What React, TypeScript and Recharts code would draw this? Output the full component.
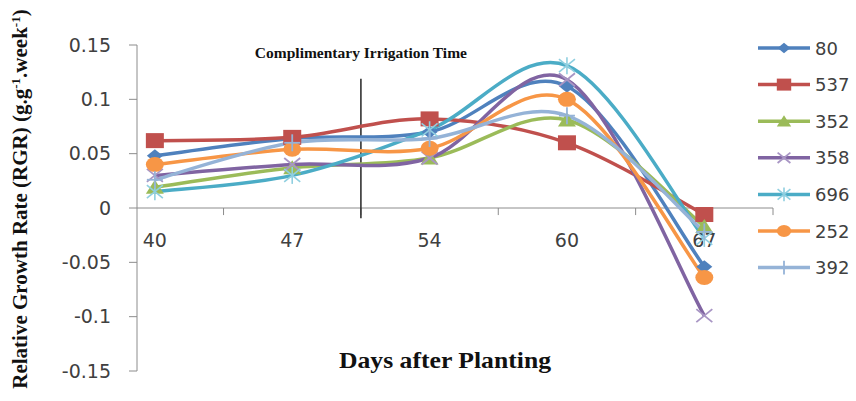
import React from 'react';
import { LineChart, Line, XAxis, YAxis, ReferenceLine, ReferenceDot, Legend } from 'recharts';

const days = ['40', '47', '54', '60', '67'];
const s80 = [0.048, 0.064, 0.07, 0.112, -0.054];
const s537 = [0.062, 0.065, 0.082, 0.06, -0.006];
const s352 = [0.019, 0.037, 0.046, 0.081, -0.017];
const s358 = [0.03, 0.04, 0.046, 0.118, -0.099];
const s696 = [0.015, 0.03, 0.072, 0.131, -0.028];
const s252 = [0.04, 0.054, 0.055, 0.1, -0.064];
const s392 = [0.026, 0.06, 0.064, 0.085, -0.022];
const yTicks = [-0.15, -0.1, -0.05, 0, 0.05, 0.1, 0.15];
const boundaries = [0.5, 1.5, 2.5, 3.5, 4.5];

const series = [
  { key: 's80', name: '80', values: s80, color: '#4F81BD', mark: 'diamond', markColor: '#4F81BD' },
  { key: 's537', name: '537', values: s537, color: '#C0504D', mark: 'square', markColor: '#C0504D' },
  { key: 's352', name: '352', values: s352, color: '#9BBB59', mark: 'triangle', markColor: '#9BBB59' },
  { key: 's358', name: '358', values: s358, color: '#8064A2', mark: 'x', markColor: '#A895C4' },
  { key: 's696', name: '696', values: s696, color: '#4BACC6', mark: 'star', markColor: '#8FCFE0' },
  { key: 's252', name: '252', values: s252, color: '#F79646', mark: 'circle', markColor: '#F79646' },
  { key: 's392', name: '392', values: s392, color: '#95B3D7', mark: 'plus', markColor: '#95B3D7' },
];

const data = days.map((d, i) => {
  const row: any = { idx: i, day: d };
  series.forEach((s) => { row[s.key] = s.values[i]; });
  return row;
});

const excelCurve: any = (context: any) => {
  let pts: number[][] = [];
  return {
    areaStart() {},
    areaEnd() {},
    lineStart() { pts = []; },
    point(x: number, y: number) { pts.push([+x, +y]); },
    lineEnd() {
      const n = pts.length;
      if (!n) return;
      context.moveTo(pts[0][0], pts[0][1]);
      for (let i = 0; i < n - 1; i++) {
        const p0 = pts[i - 1] || pts[i];
        const p1 = pts[i];
        const p2 = pts[i + 1];
        const p3 = pts[i + 2] || p2;
        context.bezierCurveTo(
          p1[0] + (p2[0] - p0[0]) / 6, p1[1] + (p2[1] - p0[1]) / 6,
          p2[0] - (p3[0] - p1[0]) / 6, p2[1] - (p3[1] - p1[1]) / 6,
          p2[0], p2[1]
        );
      }
    },
  };
};

function Marker({ mark, cx, cy, color, k = 1 }: any) {
  if (cx == null || cy == null) return null;
  switch (mark) {
    case 'diamond':
      return <polygon points={`${cx - 8 * k},${cy} ${cx},${cy - 6.5 * k} ${cx + 8 * k},${cy} ${cx},${cy + 6.5 * k}`} fill={color} />;
    case 'square':
      return <rect x={cx - 9 * k} y={cy - 7.5 * k} width={18 * k} height={15 * k} fill={color} />;
    case 'triangle':
      return <polygon points={`${cx},${cy - 7.5 * k} ${cx + 9 * k},${cy + 6.5 * k} ${cx - 9 * k},${cy + 6.5 * k}`} fill={color} />;
    case 'x':
      return (
        <g stroke={color} strokeWidth={1.8}>
          <line x1={cx - 8 * k} y1={cy - 6.5 * k} x2={cx + 8 * k} y2={cy + 6.5 * k} />
          <line x1={cx - 8 * k} y1={cy + 6.5 * k} x2={cx + 8 * k} y2={cy - 6.5 * k} />
        </g>
      );
    case 'star':
      return (
        <g stroke={color} strokeWidth={1.6}>
          <line x1={cx - 8 * k} y1={cy - 6.5 * k} x2={cx + 8 * k} y2={cy + 6.5 * k} />
          <line x1={cx - 8 * k} y1={cy + 6.5 * k} x2={cx + 8 * k} y2={cy - 6.5 * k} />
          <line x1={cx} y1={cy - 8.5 * k} x2={cx} y2={cy + 8.5 * k} />
        </g>
      );
    case 'circle':
      return <ellipse cx={cx} cy={cy} rx={9 * k} ry={7.5 * k} fill={color} />;
    case 'plus':
      return (
        <g stroke={color} strokeWidth={1.8}>
          <line x1={cx - 8 * k} y1={cy} x2={cx + 8 * k} y2={cy} />
          <line x1={cx} y1={cy - 8.5 * k} x2={cx} y2={cy + 8.5 * k} />
        </g>
      );
    default:
      return null;
  }
}

const LegendContent = () => (
  <svg width={104} height={260} style={{ position: 'absolute', left: 0, top: 0, overflow: 'visible' }}>
    {series.map((s, i) => {
      const y = 18 + i * 36.6;
      return (
        <g key={s.key}>
          <line x1={6} y1={y} x2={58} y2={y} stroke={s.color} strokeWidth={3.5} />
          <Marker mark={s.mark} cx={32} cy={y} color={s.markColor} k={0.8} />
          <text x={63} y={y} dominantBaseline="central" fontFamily="DejaVu Sans" fontSize={18} fill="#404040">{s.name}</text>
        </g>
      );
    })}
  </svg>
);

const YTitle = () => (
  <text
    x={27}
    y={199}
    transform="rotate(-90, 27, 199)"
    textAnchor="middle"
    fontFamily="Liberation Serif"
    fontWeight="bold"
    fontSize={21}
    fill="#111"
  >
    Relative Growth Rate (RGR) (g.g<tspan dy={-7} fontSize={13}>-1</tspan>
    <tspan dy={7}>.week</tspan>
    <tspan dy={-7} fontSize={13}>-1</tspan>
    <tspan dy={7}>)</tspan>
  </text>
);

const XTitle = (props: any) => {
  const vb = props.viewBox || {};
  return (
    <text
      x={vb.x + vb.width / 2 - 10}
      y={vb.y - 3}
      textAnchor="middle"
      fontFamily="Liberation Serif"
      fontWeight="bold"
      fontSize={23}
      textLength={212}
      lengthAdjust="spacingAndGlyphs"
      fill="#111"
    >
      Days after Planting
    </text>
  );
};

export default function App() {
  return (
    <div style={{ position: 'absolute', left: 0, top: 0, width: 856, height: 401, background: '#fff' }}>
      <LineChart width={856} height={401} data={data} margin={{ top: 45, right: 83, bottom: 0, left: 0 }}>
        <XAxis
          type="number"
          dataKey="idx"
          domain={[-0.13, 4.5]}
          allowDataOverflow
          tick={false}
          axisLine={false}
          tickLine={false}
          height={30}
          label={<XTitle />}
        />
        <YAxis
          type="number"
          domain={[-0.15, 0.15]}
          ticks={yTicks}
          allowDataOverflow
          width={137}
          tickSize={8}
          tickMargin={18}
          stroke="#8c8c8c"
          tick={{ fontFamily: 'DejaVu Sans', fontSize: 19, fill: '#404040' }}
          label={<YTitle />}
        />
        <ReferenceLine y={0} stroke="#8c8c8c" strokeWidth={1} />
        {boundaries.map((b) => (
          <ReferenceLine
            key={`tick-${b}`}
            segment={[{ x: b, y: 0 }, { x: b, y: -0.0065 }]}
            stroke="#8c8c8c"
            strokeWidth={1}
            ifOverflow="visible"
          />
        ))}
        <ReferenceLine
          segment={[{ x: 1.5, y: 0.119 }, { x: 1.5, y: -0.0095 }]}
          stroke="#333"
          strokeWidth={1.6}
        />
        <ReferenceDot
          x={1.5}
          y={0.138}
          r={0}
          ifOverflow="visible"
          shape={(p: any) => (
            <text x={p.cx} y={p.cy} textAnchor="middle" fontFamily="Liberation Serif" fontWeight="bold" fontSize={15.5} fill="#111">
              Complimentary Irrigation Time
            </text>
          )}
        />
        {days.map((d, i) => (
          <ReferenceDot
            key={`lab-${d}`}
            x={i}
            y={0}
            r={0}
            ifOverflow="visible"
            shape={(p: any) => (
              <text x={p.cx} y={p.cy + 32} textAnchor="middle" dominantBaseline="central" fontFamily="DejaVu Sans" fontSize={19} fill="#404040">
                {d}
              </text>
            )}
          />
        ))}
        {series.map((s) => (
          <Line
            key={s.key}
            dataKey={s.key}
            name={s.name}
            type={excelCurve}
            stroke={s.color}
            strokeWidth={3.5}
            isAnimationActive={false}
            dot={(p: any) => <Marker key={`${s.key}-${p.index}`} mark={s.mark} cx={p.cx} cy={p.cy} color={s.markColor} />}
            activeDot={false}
          />
        ))}
        <Legend
          content={<LegendContent />}
          layout="vertical"
          verticalAlign="top"
          align="right"
          wrapperStyle={{ position: 'absolute', left: 752, top: 30, width: 0, height: 0, overflow: 'visible' }}
        />
      </LineChart>
    </div>
  );
}
